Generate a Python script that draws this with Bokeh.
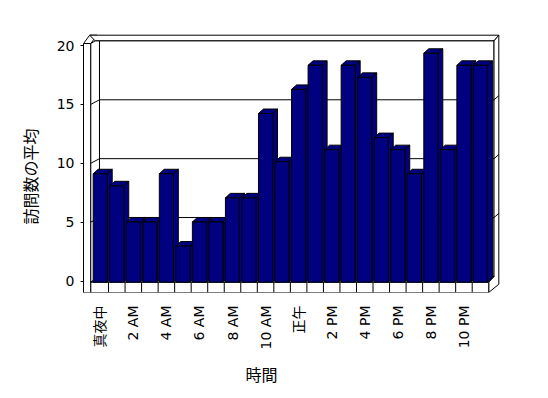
import math
from bokeh.plotting import figure
from bokeh.models import Range1d, FixedTicker, Title
from bokeh.embed import file_html
from bokeh.resources import INLINE

# ---------------- data ----------------
hours = list(range(24))
visits = [9, 8, 5, 5, 9, 3, 5, 5, 7, 7, 14, 10, 16, 18, 11, 18, 17, 12, 11, 9, 19, 11, 18, 18]
tick_hours = list(range(0, 24, 2))
tick_labels = ["真夜中", "2 AM", "4 AM", "6 AM", "8 AM", "10 AM",
               "正午", "2 PM", "4 PM", "6 PM", "8 PM", "10 PM"]
y_ticks = [0, 5, 10, 15, 20]
x_title = "時間"
y_title = "訪問数の平均"

N = len(hours)
Y_MAX = max(y_ticks)

# ---------------- 3-D projection constants (data units) ----------------
DX, DY = 0.453, 0.39
BASE = -0.102
PERSP = 1.0234
FLOOR_BOT = -0.977
WALL_L, WALL_IN = -1.0145, -0.573
TOP_FRONT = Y_MAX + 0.17
TOP_OUT = Y_MAX + 0.875
BACK_TOP = Y_MAX + DY
BACK_L = -0.5 + DX
RIGHT_FRONT = N - 0.5
RIGHT_BACK = RIGHT_FRONT + 0.32
RIGHT_OUT = RIGHT_FRONT + 0.61
RIGHT_OUT_BOT = -0.272
BAR_OFF, BAR_W = 0.072, 0.85
BAR_DX, BAR_DY = 0.30, 0.38

LATIN = "DejaVu Sans, Noto Sans CJK JP"
CJK = "Noto Sans CJK JP"

p = figure(width=540, height=394, output_backend="svg", toolbar_location=None,
           x_range=Range1d(-1.0145, 24.212), y_range=Range1d(-0.9766, 21.274),
           min_border_left=83, min_border_right=40, min_border_top=30, min_border_bottom=102,
           background_fill_color="white", border_fill_color="white", outline_line_color=None)
p.grid.visible = False

wall_xs = [
    [WALL_L, WALL_IN, WALL_IN, WALL_L],
    [WALL_L, WALL_IN, WALL_IN + 0.375, WALL_L + 0.375],
    [WALL_L + 0.375, RIGHT_OUT, RIGHT_BACK, WALL_IN + 0.266],
    [WALL_IN, WALL_IN + 0.266, BACK_L, BACK_L, WALL_IN],
    [BACK_L, RIGHT_BACK, RIGHT_BACK, BACK_L],
    [RIGHT_BACK, RIGHT_OUT, RIGHT_OUT, RIGHT_FRONT, RIGHT_FRONT, RIGHT_BACK],
    [WALL_IN, RIGHT_FRONT, RIGHT_BACK, BACK_L],
    [WALL_IN, RIGHT_FRONT, RIGHT_FRONT, WALL_IN],
]
wall_ys = [
    [FLOOR_BOT, FLOOR_BOT, TOP_FRONT, TOP_FRONT],
    [TOP_FRONT, TOP_FRONT, TOP_OUT, TOP_OUT],
    [TOP_OUT, TOP_OUT, BACK_TOP, BACK_TOP],
    [TOP_FRONT, BACK_TOP, BACK_TOP, DY, BASE],
    [DY, DY, BACK_TOP, BACK_TOP],
    [BACK_TOP, TOP_OUT, RIGHT_OUT_BOT, FLOOR_BOT, BASE, DY],
    [BASE, BASE, DY, DY],
    [FLOOR_BOT, FLOOR_BOT, BASE, BASE],
]
p.patches(wall_xs, wall_ys, fill_color="white", line_color="black", line_width=1)

g_xs, g_ys = [], []
for g in y_ticks[1:-1]:
    g_xs.append([WALL_IN, BACK_L, RIGHT_BACK, RIGHT_OUT])
    g_ys.append([g, g + DY, g + DY, g + DY + 0.35])
for h in hours[:-1]:
    g_xs.append([h + 0.5, h + 0.5])
    g_ys.append([FLOOR_BOT, BASE])
p.multi_line(g_xs, g_ys, line_color="black", line_width=1)

b_xs, b_ys = [], []
for h, v in zip(hours, visits):
    xl = h - 0.5 + BAR_OFF
    xr = xl + BAR_W
    top = BASE + PERSP * v
    b_xs.append([xr, xr + BAR_DX, xr + BAR_DX, xr])
    b_ys.append([BASE, BASE + BAR_DY, top + BAR_DY, top])
    b_xs.append([xl, xr, xr + BAR_DX, xl + BAR_DX])
    b_ys.append([top, top, top + BAR_DY, top + BAR_DY])
    b_xs.append([xl, xr, xr, xl])
    b_ys.append([BASE, BASE, top, top])
p.patches(b_xs, b_ys, fill_color="#000080", line_color="black", line_width=1)

ya = p.yaxis[0]
ya.ticker = FixedTicker(ticks=y_ticks, minor_ticks=[])
ya.bounds = (FLOOR_BOT, TOP_FRONT)
ya.axis_line_color = "black"
ya.major_tick_line_color = "black"
ya.major_tick_out = 3
ya.major_tick_in = 0
ya.minor_tick_out = 0
ya.minor_tick_in = 0
ya.major_label_standoff = 6
ya.major_label_text_font = LATIN
ya.major_label_text_font_size = "14px"
ya.major_label_text_color = "black"

xa = p.xaxis[0]
xa.ticker = FixedTicker(ticks=tick_hours, minor_ticks=[])
xa.major_label_overrides = dict(zip(tick_hours, tick_labels))
xa.major_label_orientation = math.pi / 2
xa.axis_line_color = None
xa.major_tick_line_color = None
xa.minor_tick_line_color = None
xa.major_tick_out = 0
xa.major_tick_in = 0
xa.major_label_standoff = 13
xa.major_label_text_font = LATIN
xa.major_label_text_font_size = "14px"
xa.major_label_text_color = "black"

# axis titles
p.add_layout(Title(text=x_title, align="left", offset=162, standoff=15,
                   text_font=CJK, text_font_size="16px", text_font_style="normal",
                   text_color="black"), "below")
p.add_layout(Title(text=y_title, align="left", offset=68, standoff=23,
                   text_font=CJK, text_font_size="16px", text_font_style="normal",
                   text_color="black"), "left")

open("out.html", "w").write(file_html(p, INLINE))
